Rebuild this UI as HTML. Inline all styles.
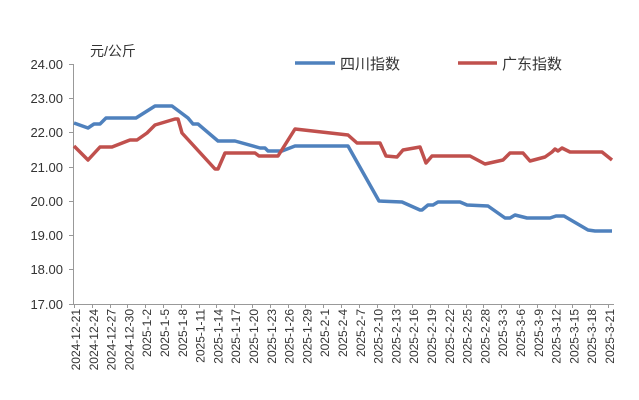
<!DOCTYPE html>
<html><head><meta charset="utf-8"><style>
body{margin:0;background:#fff;}
svg{display:block;font-family:"Liberation Sans","Noto Sans CJK SC",sans-serif;}
</style></head><body>
<svg width="639" height="400" viewBox="0 0 639 400">
<g font-size="13" fill="#333" text-anchor="end">
<text x="63" y="69">24.00</text>
<text x="63" y="103">23.00</text>
<text x="63" y="137">22.00</text>
<text x="63" y="172">21.00</text>
<text x="63" y="206">20.00</text>
<text x="63" y="240">19.00</text>
<text x="63" y="274">18.00</text>
<text x="63" y="309">17.00</text>
</g>
<g stroke="#999" stroke-width="1">
<line x1="73.5" y1="64" x2="73.5" y2="304"/>
<line x1="73" y1="304.5" x2="614" y2="304.5"/>
<line x1="69" y1="64.5" x2="73" y2="64.5"/>
<line x1="69" y1="98.5" x2="73" y2="98.5"/>
<line x1="69" y1="132.5" x2="73" y2="132.5"/>
<line x1="69" y1="167.5" x2="73" y2="167.5"/>
<line x1="69" y1="201.5" x2="73" y2="201.5"/>
<line x1="69" y1="235.5" x2="73" y2="235.5"/>
<line x1="69" y1="269.5" x2="73" y2="269.5"/>
<line x1="69" y1="304.5" x2="73" y2="304.5"/>
</g>
<g id="ticks" stroke="#999" stroke-width="1"></g>
<text x="90" y="56" font-size="14" fill="#333">元/公斤</text>
<line x1="295" y1="63" x2="335" y2="63" stroke="#4f81bd" stroke-width="3.5"/>
<text x="340" y="69" font-size="15" fill="#333">四川指数</text>
<line x1="458" y1="63" x2="497" y2="63" stroke="#c0504d" stroke-width="3.5"/>
<text x="502" y="69" font-size="15" fill="#333">广东指数</text>
<polyline fill="none" stroke="#4f81bd" stroke-width="3.5" stroke-linejoin="round" points="74,123 88,128 94,124 100,124 106,118 136,118 155,106 172,106 188,118 193,124 198,124 218,141 235,141 260,148 265,148 268,151 282,151 295,146 348,146 379,201 402,202 420,210 422,210 428,205 433,205 438,202 460,202 467,205 488,206 505,218 510,218 515,215 527,218 550,218 556,216 564,216 588,230 595,231 612,231"/>
<polyline fill="none" stroke="#c0504d" stroke-width="3.5" stroke-linejoin="round" points="74,146 88,160 100,147 112,147 130,140 137,140 147,133 155,125 175,119 178,119 182,133 215,169 218,169 225,153 255,153 259,156 278,156 295,129 348,135 357,143 380,143 386,156 397,157 403,150 420,147 426,163 432,156 470,156 485,164 503,160 510,153 523,153 530,161 545,157 552,152 555,149 558,151 562,148 570,152 602,152 612,160"/>
<g id="xl" font-size="12" fill="#333" text-anchor="end"></g>
</svg>
<script>
var labs=["2024-12-21","2024-12-24","2024-12-27","2024-12-30","2025-1-2","2025-1-5","2025-1-8","2025-1-11","2025-1-14","2025-1-17","2025-1-20","2025-1-23","2025-1-26","2025-1-29","2025-2-1","2025-2-4","2025-2-7","2025-2-10","2025-2-13","2025-2-16","2025-2-19","2025-2-22","2025-2-25","2025-2-28","2025-3-3","2025-3-6","2025-3-9","2025-3-12","2025-3-15","2025-3-18","2025-3-21"];
var ns="http://www.w3.org/2000/svg",g=document.getElementById("xl"),t=document.getElementById("ticks");
for(var i=0;i<labs.length;i++){var x=76+i*17.8;
var e=document.createElementNS(ns,"text");e.setAttribute("transform","translate("+(x+4)+",309) rotate(-90)");e.textContent=labs[i];g.appendChild(e);
var l=document.createElementNS(ns,"line");var tx=Math.round(x-2)+0.5;l.setAttribute("x1",tx);l.setAttribute("x2",tx);l.setAttribute("y1",304);l.setAttribute("y2",308);t.appendChild(l);}
</script>
</body></html>
